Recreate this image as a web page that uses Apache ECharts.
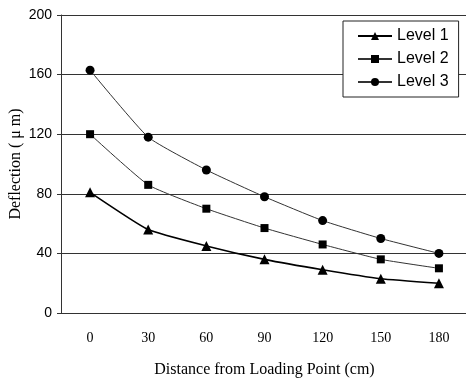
<!DOCTYPE html>
<html>
<head>
<meta charset="utf-8">
<script src="https://cdn.jsdelivr.net/npm/echarts@6/dist/echarts.min.js"></script>
<style>
  html, body { margin: 0; padding: 0; background: #fff; }
  #chart { width: 466px; height: 384px; }
</style>
</head>
<body>
<div id="chart"></div>
<script>
// 横轴：距加载点距离 (cm)
const distances = ['0', '30', '60', '90', '120', '150', '180']
// 三个等级的挠度值 (μm)
const level1 = [81, 56, 45, 36, 29, 23, 20]
const level2 = [120, 86, 70, 57, 46, 36, 30]
const level3 = [163, 118, 96, 78, 62, 50, 40]
const yTicks = [0, 40, 80, 120, 160, 200]

const chart = echarts.init(document.getElementById('chart'))

const makeSeries = (name, data, symbol, size, width, color) => ({
  name: name,
  type: 'line',
  data: data,
  smooth: 0.15,
  symbol: symbol,
  symbolSize: size,
  lineStyle: { color: color, width: width },
  itemStyle: { color: '#000' }
})

chart.setOption({
  backgroundColor: '#fff',
  animation: false,
  grid: { left: 61, right: -2, top: 15, bottom: 71, outerBoundsMode: 'none', containLabel: false },
  legend: {
    orient: 'vertical',
    left: 343,
    top: 21,
    width: 115,
    padding: [7, 10, 7, 14],
    itemGap: 7,
    itemWidth: 34,
    itemHeight: 10,
    borderColor: '#222',
    borderWidth: 1,
    backgroundColor: '#fff',
    textStyle: { fontFamily: 'Liberation Sans, Arial', fontSize: 16, color: '#000' },
    data: ['Level 1', 'Level 2', 'Level 3']
  },
  xAxis: {
    type: 'category',
    data: distances,
    boundaryGap: true,
    name: 'Distance from Loading Point (cm)',
    nameLocation: 'middle',
    nameGap: 49,
    nameMoveOverlap: false,
    nameTextStyle: { fontFamily: 'Liberation Serif, Times New Roman', fontSize: 16, color: '#000' },
    axisLine: { lineStyle: { color: '#333', width: 1, type: 'dashed' } },
    axisTick: { show: false },
    axisLabel: { fontFamily: 'Liberation Serif, Times New Roman', fontSize: 14, color: '#000', margin: 18 }
  },
  yAxis: {
    type: 'value',
    min: 0,
    max: 200,
    interval: 40,
    name: 'Deflection ( μ m)',
    nameLocation: 'middle',
    nameGap: 37,
    nameMoveOverlap: false,
    nameTextStyle: { fontFamily: 'Liberation Serif, Times New Roman', fontSize: 16, color: '#000' },
    axisLine: { show: true, lineStyle: { color: '#333', width: 1 } },
    axisTick: { show: true, length: 4, lineStyle: { color: '#333' } },
    axisLabel: {
      fontFamily: 'Liberation Sans, Arial',
      fontSize: 14,
      color: '#000',
      margin: 9,
      formatter: v => (yTicks.includes(v) ? String(v) : '')
    },
    splitLine: { show: true, lineStyle: { color: '#333', width: 1 } }
  },
  series: [
    makeSeries('Level 1', level1, 'triangle', 10, 1.6, '#000'),
    makeSeries('Level 2', level2, 'rect', 8, 1, '#333'),
    makeSeries('Level 3', level3, 'circle', 9, 1, '#333')
  ]
})
</script>
</body>
</html>
